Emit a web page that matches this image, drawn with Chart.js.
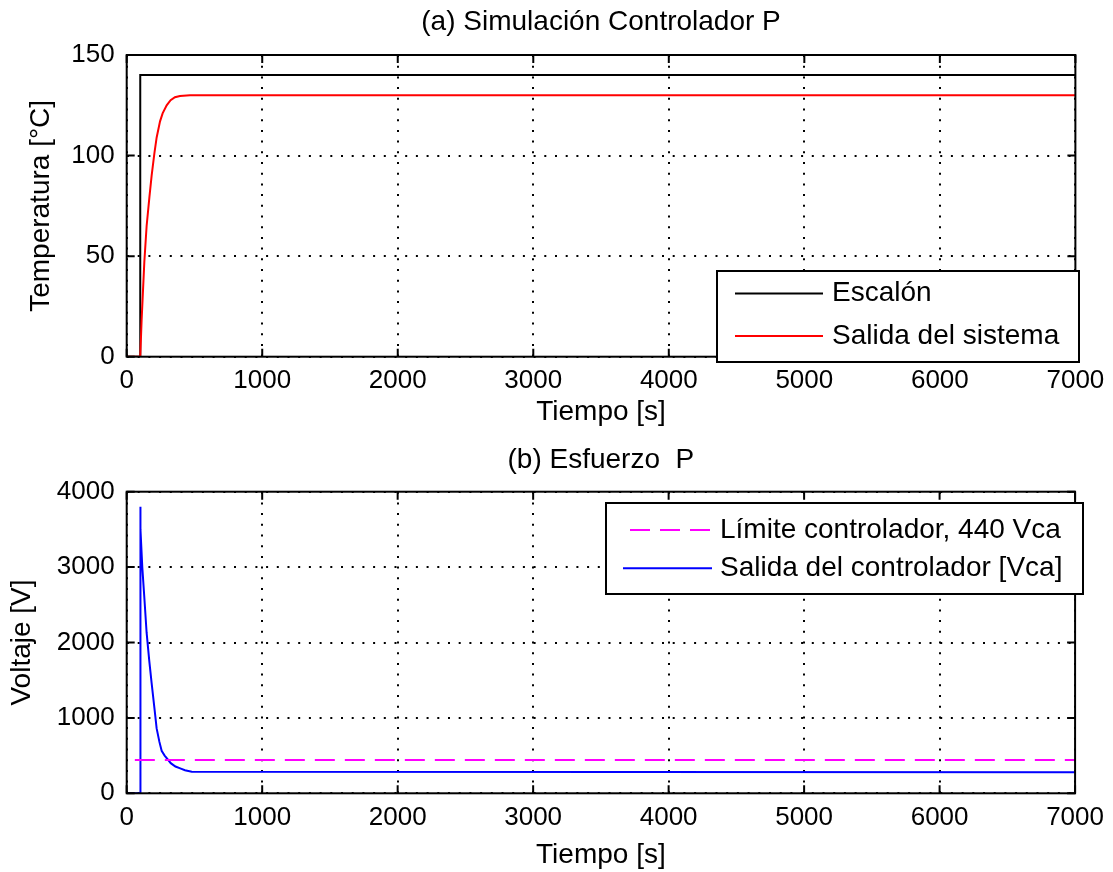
<!DOCTYPE html>
<html>
<head>
<meta charset="utf-8">
<script src="https://cdn.jsdelivr.net/npm/chart.js@4"></script>
<style>
  html, body { margin: 0; padding: 0; background: #fff; }
  #wrap { position: relative; width: 1113px; height: 872px; }
  canvas { position: absolute; left: 0; }
</style>
</head>
<body>
<div id="wrap">
  <canvas id="chart-temp" width="1113" height="436" style="top:0"></canvas>
  <canvas id="chart-volt" width="1113" height="436" style="top:436px"></canvas>
</div>
<script>
// valores
const timeTicks = [0, 1000, 2000, 3000, 4000, 5000, 6000, 7000];
const tempTicks = [0, 50, 100, 150];
const voltTicks = [0, 1000, 2000, 3000, 4000];

const stepTime = [0, 100, 100, 7000];
const stepValue = [0, 0, 140, 140];

const tempTime = [0, 100, 110, 130, 147, 167, 184, 204, 221, 246, 265, 295, 324, 356, 393, 467, 7000];
const tempValue = [0, 0, 18, 47, 65, 79, 90, 101, 109, 117, 121, 125, 127.5, 129, 129.6, 130, 130];

const limitTime = [60, 7000];
const limitValue = [440, 440];

const voltTime = [0, 100, 100, 103, 115, 130, 147, 167, 184, 204, 221, 241, 258, 280, 300, 325, 360, 395, 430, 480, 7000];
const voltValue = [0, 0, 3800, 3500, 3000, 2600, 2130, 1750, 1460, 1140, 860, 685, 563, 500, 455, 400, 355, 330, 305, 286, 280];

const FONT = '"Liberation Sans", Arial, sans-serif';
Chart.defaults.font.family = FONT;
Chart.defaults.color = '#000';

function toPoints(xs, ys) {
    return xs.map((x, i) => ({ x: x, y: ys[i] }));
}

// marco de los ejes y marcas hacia adentro (estilo MATLAB)
const framePlugin = {
    id: 'frame',
    afterDatasetsDraw(chart) {
        const { ctx, chartArea: a, scales } = chart;
        const len = 8;
        ctx.save();
        ctx.strokeStyle = '#000';
        ctx.lineWidth = 2;
        ctx.setLineDash([]);
        ctx.beginPath();
        scales.x.ticks.forEach(t => {
            const px = scales.x.getPixelForValue(t.value);
            ctx.moveTo(px, a.bottom); ctx.lineTo(px, a.bottom - len);
            ctx.moveTo(px, a.top); ctx.lineTo(px, a.top + len);
        });
        scales.y.ticks.forEach(t => {
            const py = scales.y.getPixelForValue(t.value);
            ctx.moveTo(a.left, py); ctx.lineTo(a.left + len, py);
            ctx.moveTo(a.right, py); ctx.lineTo(a.right - len, py);
        });
        ctx.stroke();
        ctx.strokeRect(a.left, a.top, a.width, a.height);
        ctx.restore();
    }
};

// leyenda con recuadro dentro del gráfico
const boxLegend = {
    id: 'boxLegend',
    afterDraw(chart, args, opts) {
        const ctx = chart.ctx;
        ctx.save();
        ctx.fillStyle = '#fff';
        ctx.fillRect(opts.left, opts.top, opts.width, opts.height);
        ctx.strokeStyle = '#000';
        ctx.lineWidth = 2;
        ctx.strokeRect(opts.left, opts.top, opts.width, opts.height);
        chart.data.datasets.forEach((ds, i) => {
            const y = opts.rows[i];
            ctx.strokeStyle = ds.borderColor;
            ctx.lineWidth = ds.borderWidth;
            ctx.setLineDash(ds.borderDash || []);
            ctx.beginPath();
            ctx.moveTo(opts.lineStart[i], y);
            ctx.lineTo(opts.lineEnd, y);
            ctx.stroke();
            ctx.setLineDash([]);
            ctx.fillStyle = '#000';
            ctx.font = '28px ' + FONT;
            ctx.textBaseline = 'middle';
            ctx.textAlign = 'left';
            ctx.fillText(ds.label, opts.textX, y);
        });
        ctx.restore();
    }
};

function makeOptions(cfg) {
    return {
        responsive: false,
        animation: false,
        events: [],
        layout: { padding: { left: 0, right: 37, top: 0, bottom: 0 } },
        elements: { point: { radius: 0 }, line: { tension: 0 } },
        plugins: {
            legend: { display: false },
            tooltip: { enabled: false },
            title: {
                display: true,
                fullSize: false,
                text: cfg.title,
                font: { size: 28, weight: 'normal' },
                color: '#000',
                padding: cfg.titlePadding
            },
            boxLegend: cfg.legend
        },
        scales: {
            x: {
                type: 'linear',
                min: 0, max: 7000,
                afterBuildTicks: s => { s.ticks = timeTicks.map(v => ({ value: v })); },
                afterFit: s => { s.height = cfg.xHeight; },
                ticks: { font: { size: 26 }, padding: cfg.xTickPad, callback: v => String(v), maxRotation: 0 },
                grid: { color: '#000', lineWidth: 2, drawTicks: false },
                border: { display: false, dash: [2, 8.7] },
                title: { display: true, text: 'Tiempo [s]', font: { size: 28 }, padding: { top: 0, bottom: cfg.xTitlePad } }
            },
            y: {
                type: 'linear',
                min: cfg.yMin, max: cfg.yMax,
                afterBuildTicks: s => { s.ticks = cfg.yTicks.map(v => ({ value: v })); },
                afterFit: s => { s.width = 126.7; },
                ticks: { font: { size: 26 }, padding: 12, callback: v => String(v) },
                grid: { color: '#000', lineWidth: 2, drawTicks: false },
                border: { display: false, dash: [2, 8.7] },
                title: { display: true, text: cfg.yTitle, font: { size: 28 }, padding: { top: cfg.yTitlePad, bottom: 0 } }
            }
        }
    };
}

new Chart(document.getElementById('chart-temp').getContext('2d'), {
    type: 'line',
    data: {
        datasets: [{
            label: 'Escalón',
            data: toPoints(stepTime, stepValue),
            borderColor: '#000000',
            borderWidth: 2,
            order: 2
        }, {
            label: 'Salida del sistema',
            data: toPoints(tempTime, tempValue),
            borderColor: '#ff0000',
            borderWidth: 2,
            order: 1
        }]
    },
    options: makeOptions({
        title: '(a) Simulación Controlador P',
        titlePadding: { top: 5, bottom: 16.4 },
        xHeight: 79.3, xTickPad: 8.7, xTitlePad: 7.2,
        yMin: 0, yMax: 150, yTicks: tempTicks,
        yTitle: 'Temperatura [°C]', yTitlePad: 24,
        legend: { left: 717, top: 271, width: 362, height: 91, rows: [293.5, 336], lineStart: [735, 735], lineEnd: 823, textX: 832 }
    }),
    plugins: [framePlugin, boxLegend]
});

new Chart(document.getElementById('chart-volt').getContext('2d'), {
    type: 'line',
    data: {
        datasets: [{
            label: 'Límite controlador, 440 Vca',
            data: toPoints(limitTime, limitValue),
            borderColor: '#ff00ff',
            borderWidth: 2,
            borderDash: [20, 10],
            order: 1
        }, {
            label: 'Salida del controlador [Vca]',
            data: toPoints(voltTime, voltValue),
            borderColor: '#0000ff',
            borderWidth: 2,
            order: 2
        }]
    },
    options: makeOptions({
        title: '(b) Esfuerzo  P',
        titlePadding: { top: 7.2, bottom: 14.9 },
        xHeight: 78.7, xTickPad: 9, xTitlePad: 0,
        yMin: 0, yMax: 4000, yTicks: voltTicks,
        yTitle: 'Voltaje [V]', yTitlePad: 5.7,
        legend: { left: 606, top: 67, width: 477, height: 91, rows: [94, 132.3], lineStart: [630, 623], lineEnd: 712, textX: 720 }
    }),
    plugins: [framePlugin, boxLegend]
});
</script>
</body>
</html>
